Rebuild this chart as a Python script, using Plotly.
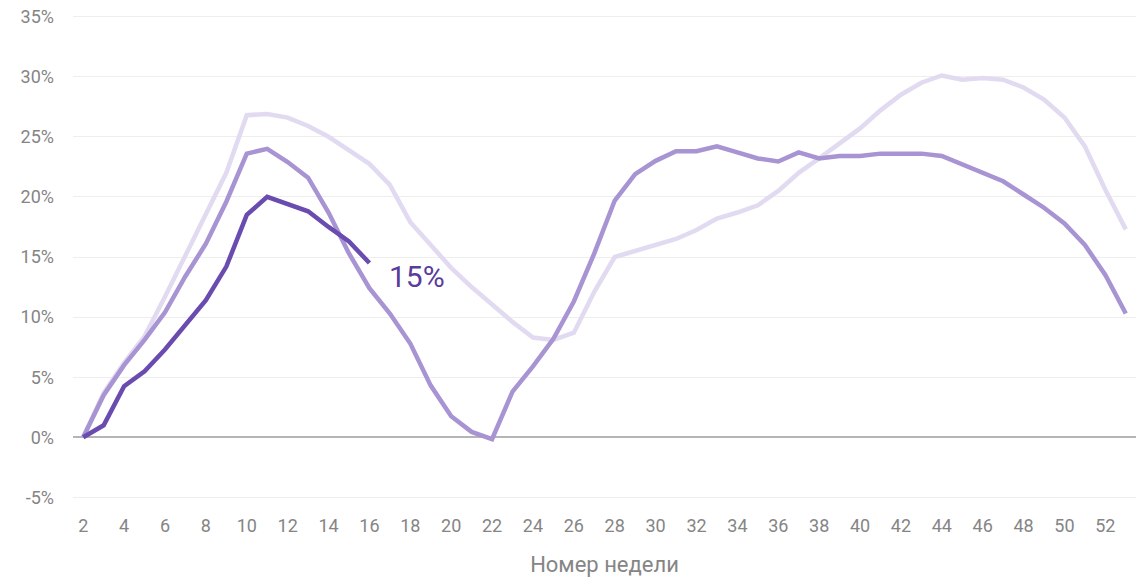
import plotly.graph_objects as go

weeks = list(range(2, 54))

light = [0.0, 3.7, 6.2, 8.4, 11.7, 15.1, 18.4, 22.0, 26.8, 26.9, 26.6, 25.9, 25.0, 23.9, 22.75,
         21.0, 17.9, 16.0, 14.1, 12.5, 11.0, 9.6, 8.3, 8.1, 8.7, 12.1, 15.0, 15.5, 16.0, 16.5,
         17.25, 18.2, 18.7, 19.3, 20.5, 22.0, 23.2, 24.5, 25.7, 27.2, 28.5, 29.5, 30.1, 29.75,
         29.9, 29.75, 29.1, 28.1, 26.6, 24.2, 20.6, 17.3]

medium = [0.0, 3.5, 6.0, 8.1, 10.4, 13.4, 16.1, 19.6, 23.6, 24.0, 22.9, 21.6, 18.7, 15.3, 12.4,
          10.3, 7.8, 4.3, 1.75, 0.45, -0.15, 3.8, 5.9, 8.2, 11.3, 15.3, 19.7, 21.9, 23.0, 23.8,
          23.8, 24.2, 23.7, 23.2, 22.95, 23.7, 23.2, 23.4, 23.4, 23.6, 23.6, 23.6, 23.4, 22.7,
          22.0, 21.3, 20.2, 19.1, 17.8, 16.0, 13.5, 10.3]

dark_weeks = list(range(2, 17))
dark = [0.0, 1.0, 4.25, 5.5, 7.3, 9.3, 11.4, 14.2, 18.5, 20.0, 19.4, 18.8, 17.5, 16.3, 14.5]

x_ticks = list(range(2, 53, 2))
y_ticks = [-5, 0, 5, 10, 15, 20, 25, 30, 35]
y_tick_labels = ["-5%", "0%", "5%", "10%", "15%", "20%", "25%", "30%", "35%"]
annotation_text = "15%"
x_title = "Номер недели"

fig = go.Figure()
fig.add_trace(go.Scatter(x=weeks, y=light, mode="lines",
                         line=dict(color="#e2daf0", width=4.5), showlegend=False))
fig.add_trace(go.Scatter(x=weeks, y=medium, mode="lines",
                         line=dict(color="#a893d3", width=4.5), showlegend=False))
fig.add_trace(go.Scatter(x=dark_weeks, y=dark, mode="lines",
                         line=dict(color="#6a4bb0", width=4.5), showlegend=False))

fig.add_annotation(x=dark_weeks[-1], y=dark[-1], text=annotation_text, showarrow=False,
                   xanchor="left", yanchor="middle", xshift=18, yshift=-13,
                   font=dict(family="Roboto", size=30, color="#5a3c9a"))

fig.update_layout(
    width=1143, height=577,
    margin=dict(l=73, r=7, t=13, b=76),
    paper_bgcolor="white", plot_bgcolor="white",
    font=dict(family="Roboto", color="#858585"),
)
fig.update_xaxes(range=[1.5, 53.5], tickvals=x_ticks, showgrid=False, zeroline=False,
                 tickfont=dict(size=18, color="#858585"), ticks="", automargin=False,
                 ticklabelstandoff=12,
                 title=dict(text=x_title, font=dict(size=22, color="#858585"), standoff=22))
fig.update_yaxes(range=[-5.3, 35.3], tickvals=y_ticks, ticktext=y_tick_labels,
                 showgrid=True, gridcolor="#eeeeee", gridwidth=1, automargin=False,
                 zeroline=True, zerolinecolor="#b5b5b5", zerolinewidth=1.5,
                 tickfont=dict(size=18, color="#858585"), ticks="", ticklabelstandoff=18)

fig.write_html("out.html", config={"displayModeBar": False},
               post_script="document.body.style.margin='0';document.body.style.overflow='hidden';")
